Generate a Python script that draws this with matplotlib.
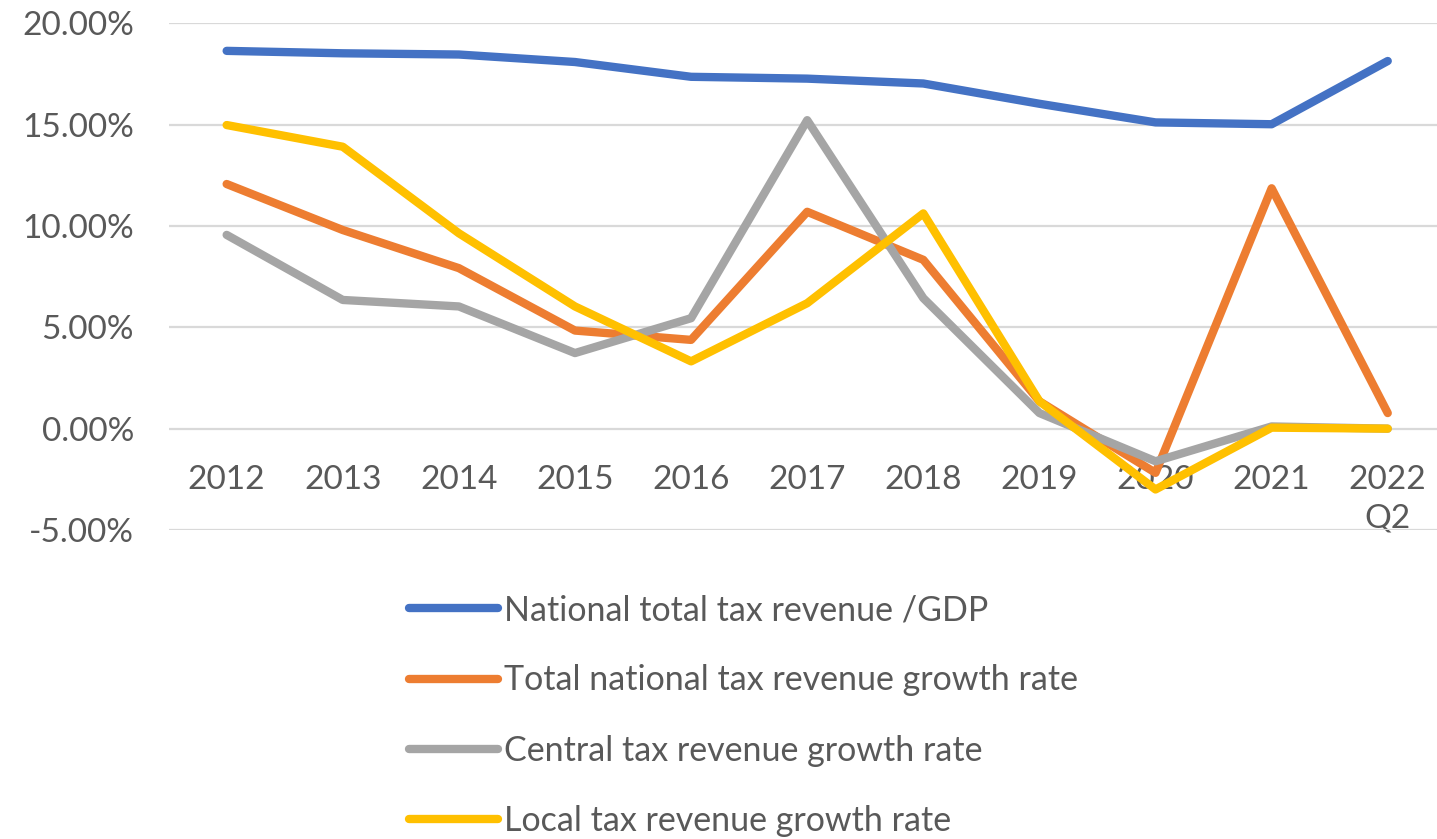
import matplotlib
matplotlib.use("Agg")
import matplotlib.pyplot as plt
from matplotlib.ticker import FuncFormatter, MultipleLocator

categories = ["2012", "2013", "2014", "2015", "2016", "2017", "2018", "2019", "2020", "2021", "2022\nQ2"]

tax_gdp = [18.64, 18.52, 18.46, 18.09, 17.36, 17.27, 17.03, 16.03, 15.11, 15.02, 18.14]
total_growth = [12.07, 9.80, 7.92, 4.84, 4.38, 10.70, 8.33, 1.35, -2.18, 11.86, 0.77]
central_growth = [9.56, 6.35, 6.03, 3.73, 5.45, 15.22, 6.44, 0.77, -1.61, 0.11, 0.0]
local_growth = [14.98, 13.91, 9.64, 6.03, 3.32, 6.19, 10.62, 1.35, -3.00, 0.05, 0.0]

series_names = [
    "National total tax revenue /GDP",
    "Total national tax revenue growth rate",
    "Central tax revenue growth rate",
    "Local tax revenue growth rate",
]
series_values = [tax_gdp, total_growth, central_growth, local_growth]
series_colors = ["#4472C4", "#ED7D31", "#A5A5A5", "#FFC000"]

TEXT = "#595959"
plt.rcParams["font.family"] = ["Lato", "DejaVu Sans"]

W, H = 1437, 839
fig = plt.figure(figsize=(W / 100, H / 100), dpi=100)
left = 168.6 / W
right = 1445.8 / W
top = 1 - 23.3 / H
bottom = 1 - 530.0 / H
ax = fig.add_axes([left, bottom, right - left, top - bottom])

x = list(range(len(categories)))
handles = []
for name, vals, col in zip(series_names, series_values, series_colors):
    h, = ax.plot(x, vals, color=col, lw=6.0, solid_capstyle="round",
                 solid_joinstyle="round", label=name, zorder=3)
    handles.append(h)

ax.set_xlim(-0.5, len(categories) - 0.5)
ax.set_ylim(-5, 20)
ax.yaxis.set_major_locator(MultipleLocator(5))
ax.yaxis.set_major_formatter(FuncFormatter(lambda v, p: f"{v:.2f}%"))
ax.grid(axis="y", color="#D9D9D9", lw=1.6, zorder=0)
ax.set_axisbelow(True)

for s in ["top", "right", "left"]:
    ax.spines[s].set_visible(False)
ax.spines["bottom"].set_position(("data", 0))
ax.spines["bottom"].set_visible(False)

ax.set_xticks(x)
ax.set_xticklabels(categories, linespacing=1.35)
ax.tick_params(axis="x", length=0, pad=26, labelsize=24, labelcolor=TEXT)
ax.tick_params(axis="y", length=0, pad=25, labelsize=24, labelcolor=TEXT)

leg = fig.legend(handles=handles, loc="upper left",
                 bbox_to_anchor=(409 / W, 1 - 594 / H),
                 frameon=False, fontsize=24.5, handlelength=2.62,
                 handletextpad=0.18, labelspacing=1.13,
                 borderpad=0, borderaxespad=0)
for t in leg.get_texts():
    t.set_color(TEXT)

fig.savefig("out.png", dpi=100)
